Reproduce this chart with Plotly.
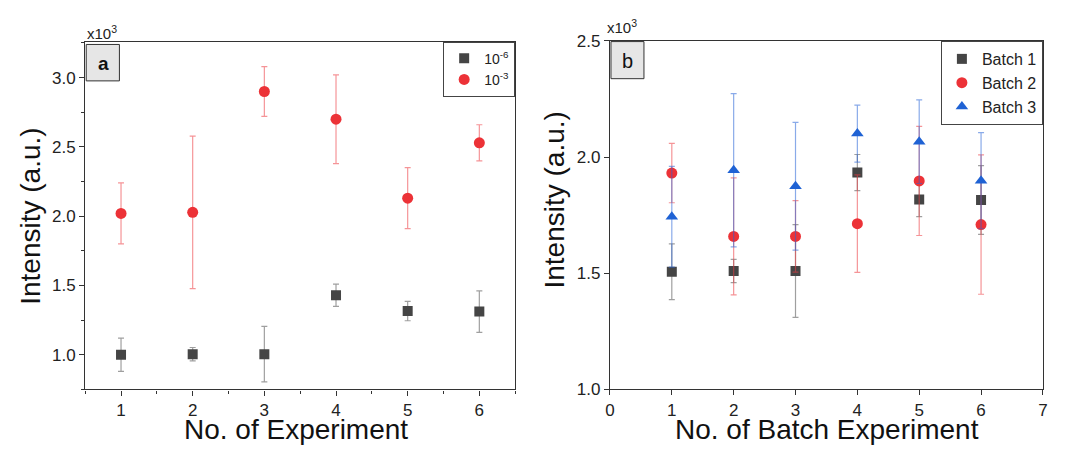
import plotly.graph_objects as go

# ---- data (intensity in units of 10^3 a.u.) ----
exp_no = [1, 2, 3, 4, 5, 6]
conc_low = [1.000, 1.005, 1.005, 1.430, 1.316, 1.312]      # 10^-6
conc_low_err = [0.120, 0.048, 0.200, 0.080, 0.070, 0.150]
conc_high = [2.020, 2.028, 2.900, 2.700, 2.130, 2.530]     # 10^-3
conc_high_err = [0.220, 0.550, 0.180, 0.320, 0.220, 0.130]

batch_no = [1, 2, 3, 4, 5, 6]
batch1 = [1.506, 1.509, 1.509, 1.933, 1.817, 1.815]
batch1_err = [0.120, 0.050, 0.200, 0.078, 0.074, 0.148]
batch2 = [1.931, 1.658, 1.658, 1.713, 1.897, 1.709]
batch2_err = [0.128, 0.252, 0.154, 0.210, 0.235, 0.300]
batch3 = [1.743, 1.943, 1.874, 2.101, 2.066, 1.898]
batch3_err = [0.217, 0.330, 0.275, 0.123, 0.180, 0.207]

DARK = "#454545"
RED = "#ec3237"
BLUE = "#1f62d4"
DARK_EB = "rgba(80,80,80,0.55)"
RED_EB = "rgba(236,60,66,0.55)"
BLUE_EB = "rgba(40,100,215,0.55)"
FONT = "Liberation Sans, Arial, sans-serif"
W, H = 1068, 457

fig = go.Figure()


def add_series(x, y, err, name, symbol, color, ebcolor, xa, ya, legend, size):
    fig.add_trace(go.Scatter(
        x=x, y=y, mode="markers", name=name,
        marker=dict(symbol=symbol, color=color, size=size, line=dict(width=0)),
        error_y=dict(type="data", array=err, color=ebcolor, thickness=1.2, width=3),
        xaxis=xa, yaxis=ya, legend=legend,
    ))


add_series(exp_no, conc_low, conc_low_err, "10<sup>-6</sup>", "square", DARK, DARK_EB, "x", "y", "legend", 10)
add_series(exp_no, conc_high, conc_high_err, "10<sup>-3</sup>", "circle", RED, RED_EB, "x", "y", "legend", 11)
add_series(batch_no, batch1, batch1_err, "Batch 1", "square", DARK, DARK_EB, "x2", "y2", "legend2", 10)
add_series(batch_no, batch2, batch2_err, "Batch 2", "circle", RED, RED_EB, "x2", "y2", "legend2", 11)
add_series(batch_no, batch3, batch3_err, "Batch 3", "triangle-up", BLUE, BLUE_EB, "x2", "y2", "legend2", 11)

axis_common = dict(
    showline=True, linecolor="#333333", linewidth=1.2, mirror=True,
    showgrid=False, zeroline=False, ticks="outside", ticklen=5,
    tickcolor="#333333", tickwidth=1.2,
    tickfont=dict(family=FONT, size=17, color="#222222"),
)

fig.update_layout(
    width=W, height=H,
    margin=dict(l=0, r=0, t=0, b=0),
    paper_bgcolor="white", plot_bgcolor="white",
    font=dict(family=FONT, color="#222222"),
    xaxis=dict(domain=[0.0758, 0.4822], range=[0.5, 6.5], tickvals=exp_no,
               minor=dict(ticks="outside", ticklen=3, dtick=0.5, tick0=0.5, tickcolor="#333333"),
               anchor="y", **axis_common),
    yaxis=dict(domain=[0.1313, 0.9256], range=[0.75, 3.26], tickvals=[1.0, 1.5, 2.0, 2.5, 3.0],
               tickformat=".1f",
               minor=dict(ticks="outside", ticklen=3, dtick=0.25, tick0=0, tickcolor="#333333"),
               anchor="x", **axis_common),
    xaxis2=dict(domain=[0.5718, 0.981], range=[0, 7], tickvals=[0, 1, 2, 3, 4, 5, 6, 7],
                anchor="y2", **axis_common),
    yaxis2=dict(domain=[0.132, 0.927], range=[1.0, 2.5], tickvals=[1.0, 1.5, 2.0, 2.5],
                tickformat=".1f", anchor="x2", **axis_common),
    legend=dict(x=0.4822, y=0.9256, xanchor="right", yanchor="top",
                bordercolor="#444444", borderwidth=1, bgcolor="white",
                font=dict(family=FONT, size=14, color="#222222"),
                itemwidth=30, tracegroupgap=0),
    legend2=dict(x=0.981, y=0.927, xanchor="right", yanchor="top",
                 bordercolor="#444444", borderwidth=1, bgcolor="white",
                 font=dict(family=FONT, size=16, color="#222222"),
                 itemwidth=30, tracegroupgap=0),
    showlegend=True,
)


def px_x(v):
    return v / W


def px_y(v):
    return 1 - v / H


def label(text, x, y, size, angle=0, color="#111111"):
    fig.add_annotation(text=text, xref="paper", yref="paper", x=px_x(x), y=px_y(y),
                       xanchor="center", yanchor="middle", textangle=angle,
                       showarrow=False, font=dict(family=FONT, size=size, color=color))


# panel labels
fig.add_shape(type="rect", xref="paper", yref="paper",
              x0=px_x(82), x1=px_x(115.5), y0=px_y(75), y1=px_y(37),
              fillcolor="#e6e6e6", line=dict(color="#333333", width=1))
label("<b>a</b>", 99, 57, 19)
fig.add_shape(type="rect", xref="paper", yref="paper",
              x0=px_x(611.7), x1=px_x(645), y0=px_y(72.7), y1=px_y(34),
              fillcolor="#e6e6e6", line=dict(color="#333333", width=1))
label("b", 628.5, 54, 20)

# multiplier labels
label("x10<sup>3</sup>", 98, 24, 15, color="#222222")
label("x10<sup>3</sup>", 623, 18, 15, color="#222222")

# axis titles
label("Intensity (a.u.)", 25, 216, 28, angle=-90)
label("Intensity (a.u.)", 555, 199, 28, angle=-90)
label("No. of Experiment", 294, 439, 28)
label("No. of Batch Experiment", 829.5, 439, 28)

fig.write_html("out.html")
